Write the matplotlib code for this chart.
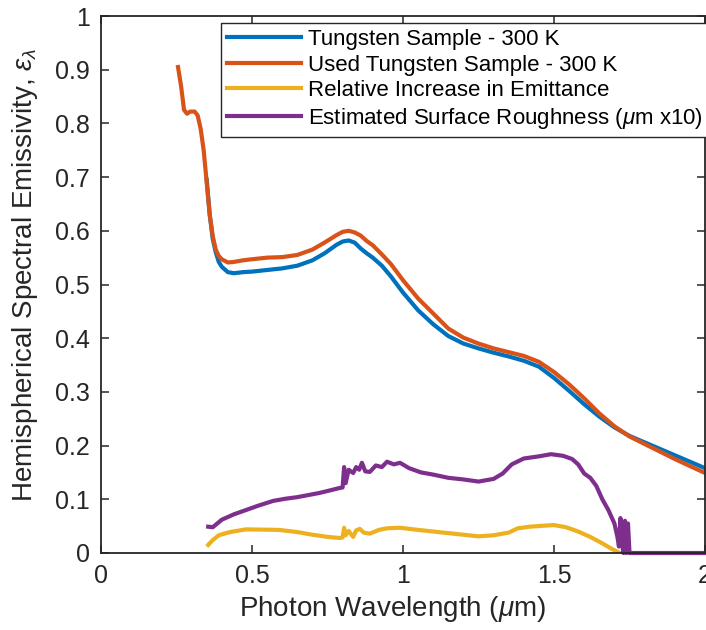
import matplotlib
matplotlib.use("Agg")
import matplotlib.pyplot as plt

plt.rcParams['font.family'] = ['Liberation Sans', 'DejaVu Sans']
plt.rcParams['mathtext.fontset'] = 'custom'
plt.rcParams['mathtext.rm'] = 'Liberation Sans'
plt.rcParams['mathtext.it'] = 'Liberation Sans:italic'

# ---- data ----
used_x = [0.255, 0.265, 0.275, 0.285, 0.295, 0.31, 0.32, 0.33, 0.34, 0.35, 0.36, 0.37, 0.38, 0.39, 0.40,
          0.42, 0.44, 0.47, 0.50, 0.55, 0.60, 0.65, 0.70, 0.74, 0.78, 0.80, 0.82, 0.84, 0.86, 0.88, 0.90,
          0.93, 0.96, 1.00, 1.05, 1.10, 1.15, 1.20, 1.25, 1.30, 1.35, 1.40, 1.45, 1.50, 1.55, 1.60, 1.65,
          1.70, 1.75, 1.80, 1.85, 1.90, 1.95, 2.00]
used_y = [0.905, 0.87, 0.825, 0.818, 0.822, 0.822, 0.815, 0.79, 0.75, 0.69, 0.63, 0.59, 0.565, 0.553, 0.547,
          0.541, 0.542, 0.545, 0.547, 0.550, 0.551, 0.555, 0.565, 0.578, 0.592, 0.598, 0.600, 0.597, 0.591, 0.581, 0.573,
          0.556, 0.538, 0.508, 0.474, 0.446, 0.418, 0.401, 0.390, 0.381, 0.374, 0.367, 0.356, 0.337, 0.314, 0.288, 0.260,
          0.236, 0.217, 0.203, 0.189, 0.175, 0.162, 0.149]

tung_x = [0.35, 0.36, 0.37, 0.38, 0.39, 0.40, 0.42, 0.44, 0.47, 0.50, 0.55, 0.60, 0.65, 0.70, 0.74, 0.78,
          0.80, 0.82, 0.84, 0.86, 0.88, 0.90, 0.93, 0.96, 1.00, 1.05, 1.10, 1.15, 1.20, 1.25, 1.30, 1.35,
          1.40, 1.45, 1.50, 1.55, 1.60, 1.65, 1.70, 1.75, 1.80, 1.85, 1.90, 1.95, 2.00]
tung_y = [0.695, 0.63, 0.585, 0.56, 0.542, 0.533, 0.523, 0.521, 0.523, 0.524, 0.527, 0.530, 0.535, 0.545, 0.558, 0.574,
          0.580, 0.582, 0.578, 0.567, 0.558, 0.550, 0.535, 0.515, 0.485, 0.452, 0.426, 0.404, 0.390, 0.381, 0.373, 0.366,
          0.358, 0.347, 0.326, 0.302, 0.277, 0.254, 0.234, 0.218, 0.206, 0.194, 0.182, 0.170, 0.158]

rel_x = [0.355, 0.37, 0.39, 0.427, 0.48, 0.59, 0.65, 0.70, 0.75, 0.79, 0.80, 0.805, 0.81, 0.82, 0.835,
         0.845, 0.857, 0.87, 0.89, 0.92, 0.947, 0.99, 1.05, 1.10, 1.15, 1.20, 1.25, 1.30, 1.35, 1.38, 1.42,
         1.47, 1.50, 1.54, 1.58, 1.62, 1.66, 1.69, 1.715]
rel_y = [0.015, 0.024, 0.033, 0.039, 0.044, 0.043, 0.039, 0.034, 0.030, 0.028, 0.029, 0.047, 0.033, 0.041, 0.030,
         0.042, 0.045, 0.038, 0.036, 0.043, 0.046, 0.047, 0.043, 0.040, 0.037, 0.034, 0.031, 0.033, 0.038, 0.046, 0.049,
         0.051, 0.052, 0.048, 0.040, 0.030, 0.018, 0.008, 0.001]

rough_x = [0.355, 0.37, 0.385, 0.40, 0.44, 0.48, 0.52, 0.57, 0.61, 0.65, 0.725, 0.79, 0.80, 0.805, 0.81, 0.82,
           0.835, 0.845, 0.855, 0.864, 0.875, 0.89, 0.91, 0.93, 0.947, 0.97, 0.99, 1.02, 1.06, 1.10, 1.15,
           1.20, 1.25, 1.30, 1.33, 1.36, 1.40, 1.45, 1.49, 1.53, 1.56, 1.58, 1.60, 1.62, 1.64, 1.66, 1.68,
           1.70, 1.71, 1.715, 1.72, 1.725, 1.73, 1.735, 1.74, 1.745, 1.75, 2.0]
rough_y = [0.049, 0.048, 0.055, 0.062, 0.072, 0.080, 0.088, 0.097, 0.101, 0.104, 0.112, 0.121, 0.122, 0.160, 0.130, 0.155,
           0.149, 0.160, 0.155, 0.168, 0.152, 0.151, 0.163, 0.160, 0.170, 0.165, 0.168, 0.158, 0.150, 0.146, 0.140,
           0.137, 0.133, 0.138, 0.148, 0.165, 0.176, 0.180, 0.184, 0.181, 0.175, 0.165, 0.148, 0.140, 0.125, 0.100, 0.080,
           0.055, 0.030, 0.012, 0.065, 0.020, 0.0, 0.060, 0.0, 0.055, 0.0, 0.0]

labels = ["Tungsten Sample - 300 K", "Used Tungsten Sample - 300 K",
          "Relative Increase in Emittance", r"Estimated Surface Roughness ($\mu$m x10)"]
colors = ["#0072BD", "#D95319", "#EDB120", "#7E2F8E"]
xticks = [0, 0.5, 1, 1.5, 2]
xticklabels = ["0", "0.5", "1", "1.5", "2"]
yticks = [0, 0.1, 0.2, 0.3, 0.4, 0.5, 0.6, 0.7, 0.8, 0.9, 1]
yticklabels = ["0", "0.1", "0.2", "0.3", "0.4", "0.5", "0.6", "0.7", "0.8", "0.9", "1"]

fig = plt.figure(figsize=(7.06, 6.30), dpi=100)
ax = fig.add_axes([101/706, 77/630, 604/706, 537/630])

lw = 3.0
l1, = ax.plot(tung_x, tung_y, color=colors[0], lw=lw, label=labels[0])
l2, = ax.plot(used_x, used_y, color=colors[1], lw=lw, label=labels[1])
l3, = ax.plot(rel_x, rel_y, color=colors[2], lw=lw, label=labels[2])
l4, = ax.plot(rough_x, rough_y, color=colors[3], lw=lw, label=labels[3], clip_on=False)

ax.set_xlim(0, 2)
ax.set_ylim(0, 1)
ax.set_xticks(xticks)
ax.set_xticklabels(xticklabels)
ax.set_yticks(yticks)
ax.set_yticklabels(yticklabels)

dark = "#262626"
for s in ax.spines.values():
    s.set_linewidth(1.3)
    s.set_color(dark)
ax.tick_params(direction='in', length=6, width=1.1, colors=dark, labelsize=18,
               top=True, right=True, pad=8)
ax.set_xlabel(r"Photon Wavelength ($\mu$m)", fontsize=20, color=dark, labelpad=4)
ax.set_ylabel(r"Hemispherical Spectral Emissivity, $\varepsilon_\lambda$", fontsize=20, color=dark, labelpad=11)
ax.xaxis.label.set_x((393 - 101) / 604)
ax.yaxis.label.set_y((553 - 275) / 537)

leg = ax.legend(handles=[l1, l2, l3, l4], loc='upper left',
                bbox_to_anchor=(221/706, 1 - 23/630), bbox_transform=fig.transFigure,
                fontsize=16, frameon=True, fancybox=False, framealpha=1, borderaxespad=0,
                handlelength=3.3, handletextpad=0.35, labelspacing=0.2, borderpad=0.28)
leg.get_frame().set_edgecolor(dark)
leg.get_frame().set_linewidth(1.0)

fig.savefig("out.png", dpi=100)
